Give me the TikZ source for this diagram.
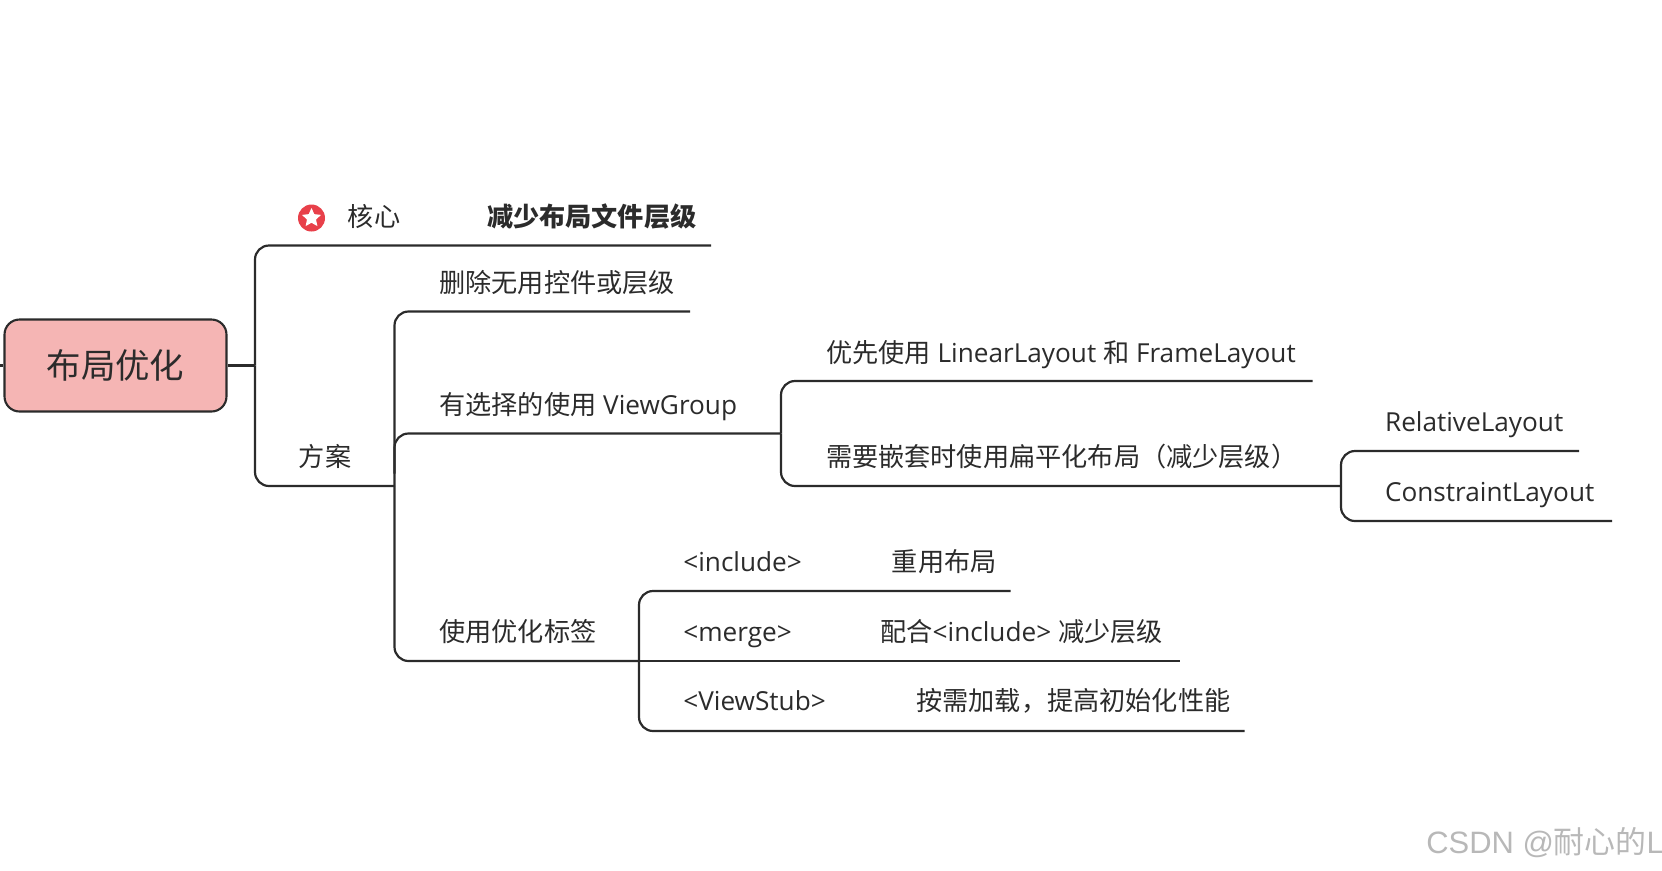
\documentclass[tikz,border=0pt]{standalone}
\usepackage{fontspec}
\setmainfont{Open Sans}
\newfontfamily\cjk{Noto Sans CJK SC}
\newfontfamily\markfont{Liberation Sans}
\newcommand{\zh}[1]{{\cjk #1}}
\usetikzlibrary{shapes.geometric}
\definecolor{inkgray}{HTML}{2B2B2B}
\definecolor{rootpink}{HTML}{F5B5B4}
\definecolor{iconred}{HTML}{E8404A}
\tikzset{
	rootbox/.style={draw=inkgray, line width=1.2pt, fill=rootpink, rounded corners=0.3cm, minimum width=4.44cm, minimum height=1.84cm, text=inkgray, font=\fontsize{19.6}{22}\selectfont},
	topic/.style={anchor=west, inner sep=0pt, text height=1.1em, text depth=0.12em, text=inkgray, font=\fontsize{14.9}{18}\selectfont},
	branch/.style={draw=inkgray, line width=1.25pt, rounded corners=0.28cm},
}
\begin{document}
\begin{tikzpicture}[x=0.02cm, y=-0.02cm]
	\useasboundingbox (0, 0) rectangle (1662, 870);
	\node[rootbox] (root) at (115.5, 365.5) {\zh{布局优化}};
	\node[circle, fill=iconred, minimum size=0.54cm, inner sep=0pt] (hexinicon) at (311.5, 218) {};
	\node[star, star points=5, star point ratio=2.1, fill=white, minimum size=0.4cm, inner sep=0pt] (hexinstar) at (311.5, 218) {};
	\node[topic] (hexin) at (347.5, 217.5) {\zh{核心}};
	\node[topic] (jianshao) at (486.7, 217.5) {\cjk\bfseries 减少布局文件层级};
	\node[topic] (fangan) at (298.6, 457.5) {\zh{方案}};
	\node[topic] (shanchu) at (439, 283.5) {\zh{删除无用控件或层级}};
	\node[topic] (youxuan) at (439, 405.5) {\zh{有选择的使用} ViewGroup};
	\node[topic] (biaoqian) at (439, 632.5) {\zh{使用优化标签}};
	\node[topic] (linear) at (825.7, 353.5) {\zh{优先使用} LinearLayout \zh{和} FrameLayout};
	\node[topic] (bianping) at (825.7, 457.5) {\zh{需要嵌套时使用扁平化布局（减少层级）}};
	\node[topic] (relative) at (1384.7, 422.5) {RelativeLayout};
	\node[topic] (constraint) at (1384.7, 492.5) {ConstraintLayout};
	\node[topic] (include) at (683, 562.5) {<include>};
	\node[topic] (chongyong) at (891.6, 562.5) {\zh{重用布局}};
	\node[topic] (merge) at (683, 632.5) {<merge>};
	\node[topic] (peihe) at (880, 632.5) {\zh{配合}<include> \zh{减少层级}};
	\node[topic] (viewstub) at (683, 702) {<ViewStub>};
	\node[topic] (anxu) at (916, 702) {\zh{按需加载，提高初始化性能}};
	\node[anchor=west, inner sep=0pt, text=black!28, font=\markfont\fontsize{17.6}{20}\selectfont] (watermark) at (1426, 843) {CSDN @{\cjk 耐心的}L};
	\coordinate (leftedge) at (0, 365.5);
	\coordinate (forkroot) at (255, 365.5);
	\coordinate (hexinend) at (711, 245.5);
	\coordinate (forkfangan) at (394.5, 486);
	\coordinate (shanchuend) at (690, 311.5);
	\coordinate (youxuanend) at (781, 433.5);
	\coordinate (biaoqianend) at (639, 661);
	\coordinate (linearend) at (1312.5, 381);
	\coordinate (bianpingend) at (1341, 486);
	\coordinate (relativeend) at (1579, 451);
	\coordinate (constraintend) at (1612, 521);
	\coordinate (chongyongend) at (1010.5, 591);
	\coordinate (peiheend) at (1180, 661);
	\coordinate (anxuend) at (1244.5, 731);
	\draw[branch] (leftedge) -- (root.west);
	\draw[branch] (root.east) -- (forkroot);
	\draw[branch] (forkroot) |- (hexinend);
	\draw[branch] (forkroot) |- (forkfangan);
	\draw[branch] (forkfangan) |- (shanchuend);
	\draw[branch] (forkfangan |- youxuanend) ++(0, 40) |- (youxuanend);
	\draw[branch] (forkfangan) |- (biaoqianend);
	\draw[branch] (youxuanend) |- (linearend);
	\draw[branch] (youxuanend) |- (bianpingend);
	\draw[branch] (bianpingend) |- (relativeend);
	\draw[branch] (bianpingend) |- (constraintend);
	\draw[branch] (biaoqianend) |- (chongyongend);
	\draw[branch] (biaoqianend) -- (peiheend);
	\draw[branch] (biaoqianend) |- (anxuend);
\end{tikzpicture}
\end{document}
